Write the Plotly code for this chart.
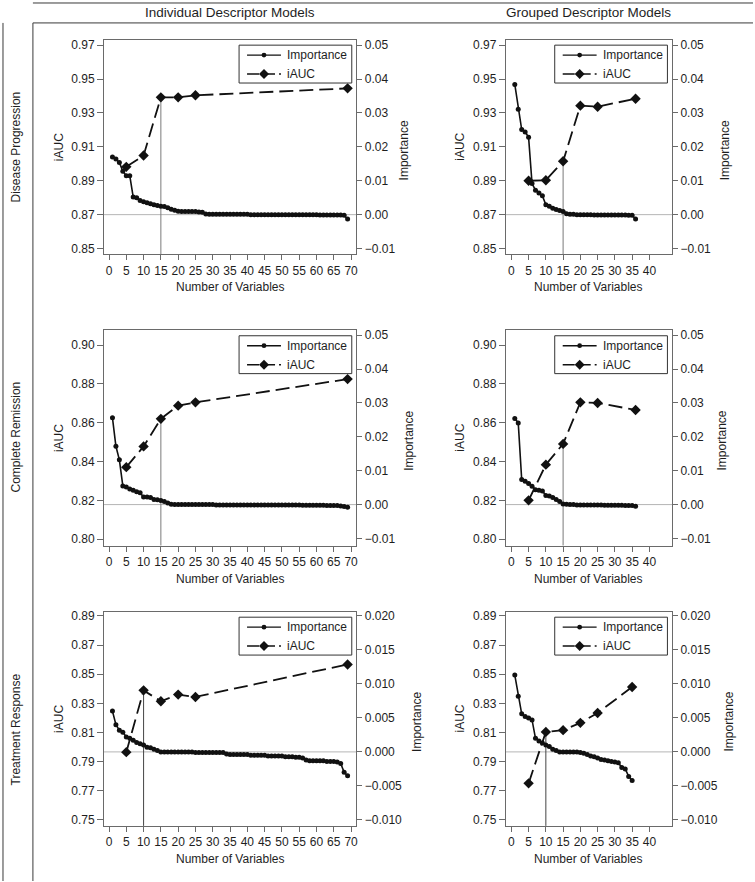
import plotly.graph_objects as go

W, H = 755, 882

row_labels = ["Disease Progression", "Complete Remission", "Treatment Response"]
col_labels = ["Individual Descriptor Models", "Grouped Descriptor Models"]
legend_labels = ["Importance", "iAUC"]

# ---------------- data ----------------
# Importance by variable rank (rank 1..n)
dp_ind_imp = [0.0170, 0.0164, 0.0154, 0.0128, 0.0115, 0.0115, 0.0052, 0.0050, 0.0042, 0.0038,
              0.0035, 0.0032, 0.0029, 0.0027, 0.0025, 0.0024, 0.0020, 0.0016, 0.0013, 0.0010,
              0.0009, 0.0009, 0.0009, 0.0009, 0.0009, 0.0008, 0.0007, 0.0002, 0.0001, 0.0001,
              0.0001, 0.0001, 0.0001, 0.0001, 0.0001, 0.0001, 0.0001, 0.0001, 0.0001, 0.0001,
              0.0000, 0.0000, 0.0000, 0.0000, 0.0000, 0.0000, 0.0000, 0.0000, 0.0000, 0.0000,
              0.0000, 0.0000, 0.0000, 0.0000, 0.0000, 0.0000, 0.0000, 0.0000, 0.0000, 0.0000,
              -0.0001, -0.0001, -0.0001, -0.0001, -0.0001, -0.0001, -0.0001, -0.0002, -0.0013]
dp_grp_imp = [0.0384, 0.0311, 0.0251, 0.0244, 0.0228, 0.0092, 0.0072, 0.0064, 0.0056, 0.0029,
              0.0025, 0.0019, 0.0015, 0.0012, 0.0009, 0.0003, 0.0001, 0.0001, 0.0000, 0.0000,
              0.0000, 0.0000, 0.0000, -0.0001, -0.0001, -0.0001, -0.0001, -0.0001, -0.0001, -0.0001,
              -0.0001, -0.0001, -0.0001, -0.0002, -0.0002, -0.0013]
cr_ind_imp = [0.0256, 0.0172, 0.0132, 0.0055, 0.0052, 0.0046, 0.0042, 0.0038, 0.0035, 0.0022,
              0.0022, 0.0021, 0.0015, 0.0014, 0.0012, 0.0009, 0.0005, 0.0001, 0.0000, 0.0000,
              0.0000, 0.0000, 0.0000, 0.0000, 0.0000, 0.0000, 0.0000, 0.0000, 0.0000, 0.0000,
              -0.0001, -0.0001, -0.0001, -0.0001, -0.0001, -0.0001, -0.0001, -0.0001, -0.0001, -0.0001,
              -0.0001, -0.0001, -0.0001, -0.0001, -0.0001, -0.0001, -0.0001, -0.0001, -0.0001, -0.0001,
              -0.0001, -0.0001, -0.0001, -0.0001, -0.0001, -0.0002, -0.0002, -0.0002, -0.0002, -0.0002,
              -0.0002, -0.0002, -0.0003, -0.0003, -0.0003, -0.0003, -0.0004, -0.0006, -0.0008]
cr_grp_imp = [0.0254, 0.0241, 0.0074, 0.0069, 0.0062, 0.0054, 0.0044, 0.0042, 0.0040, 0.0027,
              0.0025, 0.0021, 0.0015, 0.0009, 0.0002, 0.0001, 0.0000, 0.0000, -0.0001, -0.0001,
              -0.0001, -0.0001, -0.0001, -0.0001, -0.0001, -0.0001, -0.0002, -0.0002, -0.0002, -0.0002,
              -0.0002, -0.0002, -0.0003, -0.0003, -0.0003, -0.0005]
tr_ind_imp = [0.0060, 0.0040, 0.0032, 0.0029, 0.0022, 0.0020, 0.0017, 0.0014, 0.0012, 0.0010,
              0.0007, 0.0006, 0.0004, 0.0002, 0.0000, 0.0000, 0.0000, 0.0000, 0.0000, 0.0000,
              0.0000, 0.0000, 0.0000, 0.0000, -0.0001, -0.0001, -0.0001, -0.0001, -0.0001, -0.0001,
              -0.0001, -0.0001, -0.0001, -0.0003, -0.0004, -0.0004, -0.0004, -0.0004, -0.0004, -0.0004,
              -0.0005, -0.0005, -0.0005, -0.0005, -0.0005, -0.0006, -0.0006, -0.0006, -0.0006, -0.0006,
              -0.0007, -0.0007, -0.0007, -0.0008, -0.0008, -0.0009, -0.0012, -0.0013, -0.0013, -0.0013,
              -0.0013, -0.0013, -0.0014, -0.0014, -0.0014, -0.0015, -0.0017, -0.0030, -0.0035]
tr_grp_imp = [0.0113, 0.0082, 0.0056, 0.0052, 0.0050, 0.0047, 0.0020, 0.0016, 0.0013, 0.0010,
              0.0008, 0.0004, 0.0002, 0.0000, 0.0000, 0.0000, 0.0000, 0.0000, 0.0000, -0.0001,
              -0.0002, -0.0004, -0.0006, -0.0007, -0.0009, -0.0011, -0.0012, -0.0013, -0.0014, -0.0015,
              -0.0016, -0.0023, -0.0025, -0.0036, -0.0042]

# iAUC at selected model sizes
auc_n_ind = [5, 10, 15, 20, 25, 69]
auc_n_grp = [5, 10, 15, 20, 25, 36]
auc_n_grp_tr = [5, 10, 15, 20, 25, 35]
dp_ind_auc = [0.8982, 0.9049, 0.9392, 0.9392, 0.9404, 0.9445]
dp_grp_auc = [0.8900, 0.8903, 0.9015, 0.9343, 0.9337, 0.9384]
cr_ind_auc = [0.8371, 0.8478, 0.8620, 0.8688, 0.8705, 0.8825]
cr_grp_auc = [0.8200, 0.8384, 0.8491, 0.8705, 0.8702, 0.8666]
tr_ind_auc = [0.7965, 0.8389, 0.8314, 0.8360, 0.8344, 0.8567]
tr_grp_auc = [0.7751, 0.8104, 0.8116, 0.8166, 0.8234, 0.8412]

selected_n = [15, 15, 15, 15, 10, 10]

# tick values
iauc_ticks_dp = [0.85, 0.87, 0.89, 0.91, 0.93, 0.95, 0.97]
iauc_ticks_cr = [0.80, 0.82, 0.84, 0.86, 0.88, 0.90]
iauc_ticks_tr = [0.75, 0.77, 0.79, 0.81, 0.83, 0.85, 0.87, 0.89]
imp_ticks_a = [-0.01, 0.00, 0.01, 0.02, 0.03, 0.04, 0.05]
imp_ticks_tr = [-0.010, -0.005, 0.000, 0.005, 0.010, 0.015, 0.020]
x_ticks_ind = [0, 5, 10, 15, 20, 25, 30, 35, 40, 45, 50, 55, 60, 65, 70]
x_ticks_grp = [0, 5, 10, 15, 20, 25, 30, 35, 40]

# ---------------- layout geometry (pixels) ----------------
COL_X = [(104.3, 357.3), (507.2, 673.8)]
ROW_Y = [(37.7, 253.3), (329.3, 545.5), (611.7, 826.7)]
XR = [[-1.44, 71.53], [-1.59, 46.56]]
YL_R = [[0.84653, 0.97329], [0.79666, 0.90770], [0.74590, 0.89294]]
YR_R = [[-0.011735, 0.051645], [-0.01212, 0.05147], [-0.01088, 0.02063]]
IMP_TITLE_X = [[405.5, 727.3], [410.0, 723.5], [418.3, 730.7]]
IAUC_TITLE_X = [59.3, 461.0]

FONT = "Liberation Sans, Arial, Helvetica, sans-serif"
TXT = "#1e1e1e"
AX = "#6a6a6a"
INK = "#111111"


def px(x):
    return x / W


def py(y):
    return 1 - y / H


panels = [
    dict(imp=dp_ind_imp, an=auc_n_ind, auc=dp_ind_auc, yt=iauc_ticks_dp, it=imp_ticks_a, itf=".2f", xt=x_ticks_ind),
    dict(imp=dp_grp_imp, an=auc_n_grp, auc=dp_grp_auc, yt=iauc_ticks_dp, it=imp_ticks_a, itf=".2f", xt=x_ticks_grp),
    dict(imp=cr_ind_imp, an=auc_n_ind, auc=cr_ind_auc, yt=iauc_ticks_cr, it=imp_ticks_a, itf=".2f", xt=x_ticks_ind),
    dict(imp=cr_grp_imp, an=auc_n_grp, auc=cr_grp_auc, yt=iauc_ticks_cr, it=imp_ticks_a, itf=".2f", xt=x_ticks_grp),
    dict(imp=tr_ind_imp, an=auc_n_ind, auc=tr_ind_auc, yt=iauc_ticks_tr, it=imp_ticks_tr, itf=".3f", xt=x_ticks_ind),
    dict(imp=tr_grp_imp, an=auc_n_grp_tr, auc=tr_grp_auc, yt=iauc_ticks_tr, it=imp_ticks_tr, itf=".3f", xt=x_ticks_grp),
]

fig = go.Figure()
layout = dict(
    width=W, height=H, autosize=False,
    margin=dict(l=0, r=0, t=0, b=0, pad=0),
    paper_bgcolor="white", plot_bgcolor="white",
    font=dict(family=FONT, size=12, color=TXT),
    showlegend=False,
)
shapes = []
annotations = []


def pline(xa, ya, xb, yb, color, width, dash="solid", layer="above"):
    return dict(type="line", xref="paper", yref="paper", x0=px(xa), y0=py(ya), x1=px(xb), y1=py(yb),
                line=dict(color=color, width=width, dash=dash), layer=layer)


for k, p in enumerate(panels):
    r, c = k // 2, k % 2
    xs = "" if k == 0 else str(k + 1)
    xa = "x" + xs
    yl = "y" + ("" if k == 0 else str(2 * k + 1))
    yr = "y" + str(2 * k + 2)
    x0, x1 = COL_X[c]
    y0, y1 = ROW_Y[r]

    sel = selected_n[k]
    sel_auc = p["auc"][p["an"].index(sel)]
    fig.add_trace(go.Scatter(
        x=[sel, sel], y=[YL_R[r][0], sel_auc], mode="lines",
        line=dict(color="#444444" if r == 2 else "#7a7a7a", width=1),
        xaxis=xa, yaxis=yl, hoverinfo="skip"))
    ranks = list(range(1, len(p["imp"]) + 1))
    fig.add_trace(go.Scatter(
        x=ranks, y=p["imp"], mode="lines+markers", name=legend_labels[0],
        line=dict(color=INK, width=1.6),
        marker=dict(symbol="circle", size=5, color=INK),
        xaxis=xa, yaxis=yr))
    fig.add_trace(go.Scatter(
        x=p["an"], y=p["auc"], mode="lines+markers", name=legend_labels[1],
        line=dict(color=INK, width=1.8, dash="14px,6px"),
        marker=dict(symbol="diamond", size=8, color=INK),
        xaxis=xa, yaxis=yl))

    axcommon = dict(showgrid=False, zeroline=False, ticks="outside",
                    tickcolor=AX, tickwidth=1, tickfont=dict(size=12, color=TXT, family=FONT))
    layout["xaxis" + xs] = dict(
        domain=[px(x0), px(x1)], range=XR[c], anchor=yl, ticklen=5,
        tickmode="array", tickvals=p["xt"], ticktext=[str(v) for v in p["xt"]],
        showline=True, mirror=True, linecolor=AX, linewidth=1, **axcommon)
    layout["yaxis" + ("" if k == 0 else str(2 * k + 1))] = dict(
        domain=[py(y1), py(y0)], range=YL_R[r], anchor=xa, ticklen=6,
        tickmode="array", tickvals=p["yt"], tickformat=".2f",
        showline=True, mirror=True, linecolor=AX, linewidth=1, **axcommon)
    layout["yaxis" + str(2 * k + 2)] = dict(
        overlaying=yl, side="right", range=YR_R[r], anchor=xa, ticklen=5,
        tickmode="array", tickvals=p["it"], tickformat=p["itf"],
        showline=False, **axcommon)

    # zero-importance reference line
    shapes.append(dict(type="line", xref=xa + " domain", x0=0, x1=1, yref=yr, y0=0, y1=0,
                       line=dict(color="#b5b5b5", width=1), layer="below"))

    # ---- hand-drawn legend box (R-style) ----
    LW, LH = 113.0, 38.0
    LR = x1 - 4.6
    LL = LR - LW
    LT = y0 + 5.6
    shapes.append(dict(type="rect", xref="paper", yref="paper",
                       x0=px(LL), x1=px(LR), y0=py(LT + LH), y1=py(LT),
                       line=dict(color="#333333", width=1), fillcolor="white", layer="above"))
    e1, e2 = LT + 10.0, LT + 29.0
    shapes.append(pline(LL + 8, e1, LL + 42, e1, INK, 1.3))
    cx = LL + 25
    rr = 2.4
    shapes.append(dict(type="circle", xref="paper", yref="paper",
                       x0=px(cx - rr), x1=px(cx + rr), y0=py(e1 + rr), y1=py(e1 - rr),
                       line=dict(color=INK, width=0), fillcolor=INK, layer="above"))
    shapes.append(pline(LL + 8, e2, LL + 42, e2, INK, 1.5, dash="12px,4px"))
    d = 5.0
    path = "M {a},{b} L {c},{dd} L {e},{f} L {g},{h} Z".format(
        a=px(cx), b=py(e2 - d), c=px(cx + d), dd=py(e2), e=px(cx), f=py(e2 + d), g=px(cx - d), h=py(e2))
    shapes.append(dict(type="path", xref="paper", yref="paper", path=path,
                       line=dict(color=INK, width=0), fillcolor=INK, layer="above"))
    for lab, ey in zip(legend_labels, [e1, e2]):
        annotations.append(dict(text=lab, x=px(LL + 46), y=py(ey), xref="paper", yref="paper",
                                showarrow=False, xanchor="left", yanchor="middle",
                                font=dict(size=12, color=TXT)))

    # axis titles
    annotations.append(dict(text="Number of Variables", x=px((x0 + x1) / 2), y=py(y1 + 33),
                            xref="paper", yref="paper", showarrow=False,
                            font=dict(size=12, color=TXT), xanchor="center", yanchor="middle"))
    annotations.append(dict(text="iAUC", x=px(IAUC_TITLE_X[c]), y=py((y0 + y1) / 2),
                            xref="paper", yref="paper", showarrow=False, textangle=-90,
                            font=dict(size=12, color=TXT), xanchor="center", yanchor="middle"))
    annotations.append(dict(text="Importance", x=px(IMP_TITLE_X[r][c]), y=py((y0 + y1) / 2 + 3),
                            xref="paper", yref="paper", showarrow=False, textangle=-90,
                            font=dict(size=12, color=TXT), xanchor="center", yanchor="middle"))

# column headers
for c, lab in enumerate(col_labels):
    annotations.append(dict(text=lab, x=px((COL_X[c][0] + COL_X[c][1]) / 2), y=py(11.0),
                            xref="paper", yref="paper", showarrow=False,
                            font=dict(size=13.5, color=TXT), xanchor="center", yanchor="middle"))
# row labels
ROW_LABEL_Y = [145, 436, 730]
for r, lab in enumerate(row_labels):
    annotations.append(dict(text=lab, x=px(16), y=py(ROW_LABEL_Y[r]),
                            xref="paper", yref="paper", showarrow=False, textangle=-90,
                            font=dict(size=12, color=TXT), xanchor="center", yanchor="middle"))

# table frame
FR = "#3a3a3a"
for (a, b, cc, dd) in [(33, 1, 755, 1), (33, 21, 755, 21), (33, 21, 33, 882), (3, 21, 3, 882)]:
    shapes.append(pline(a, b, cc, dd, FR, 1))

layout["shapes"] = shapes
layout["annotations"] = annotations
fig.update_layout(**layout)
fig.write_html("out.html", config={"displayModeBar": False},
               post_script="document.body.style.margin='0px';document.body.style.overflow='hidden';")
